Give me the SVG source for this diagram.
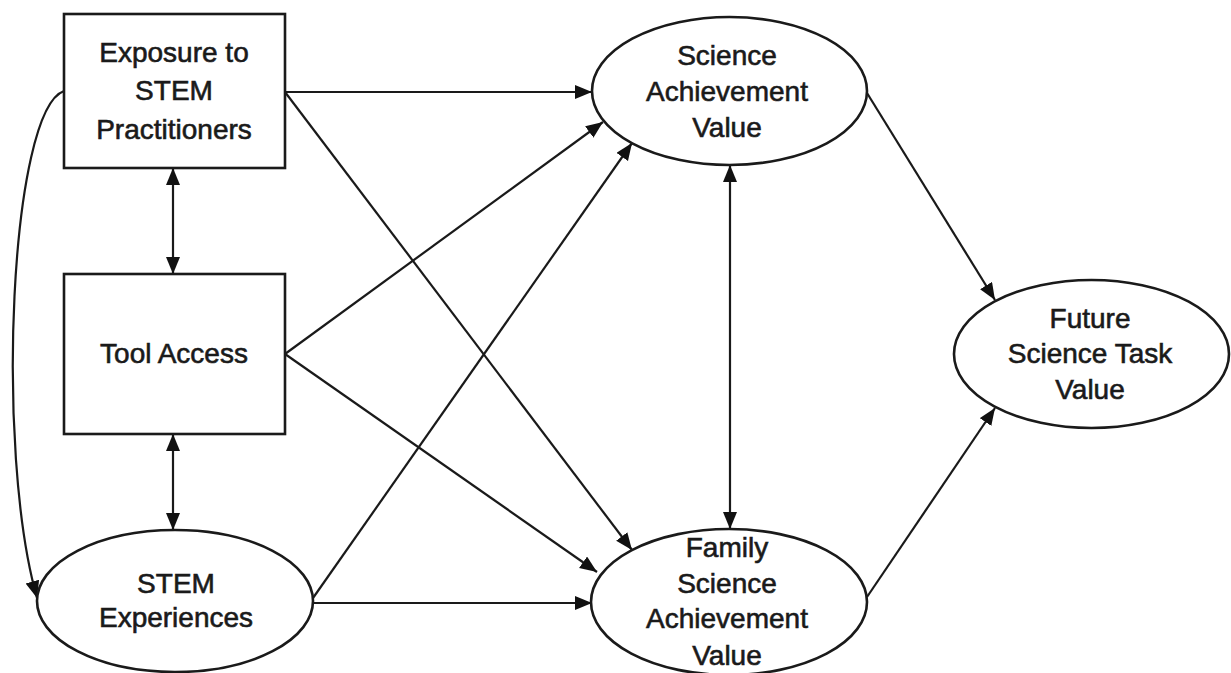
<svg xmlns="http://www.w3.org/2000/svg" width="1231" height="673" viewBox="0 0 1231 673">
<defs>
<marker id="ah" markerUnits="userSpaceOnUse" markerWidth="19" markerHeight="15" refX="17" refY="7" orient="auto-start-reverse">
<path d="M0,0 L17,7 L0,14 z" fill="#111"/>
</marker>
<style>
.node{fill:#fff;stroke:#1a1a1a;stroke-width:2.6}
.lbl{font-family:"Liberation Sans",Arial,sans-serif;font-size:28px;fill:#1a1a1a;stroke:#1a1a1a;stroke-width:0.6;text-anchor:middle}
.c{fill:none;stroke:#1a1a1a;stroke-width:2.2}
</style>
</defs>
<rect width="1231" height="673" fill="#fff"/>
<g id="connectors">
<path class="c" d="M64,91 C10,110 -5,450 37,598" marker-end="url(#ah)"/>
<line class="c" x1="173" y1="168" x2="173" y2="274" marker-start="url(#ah)" marker-end="url(#ah)"/>
<line class="c" x1="173" y1="434" x2="173" y2="530" marker-start="url(#ah)" marker-end="url(#ah)"/>
<line class="c" x1="285" y1="92" x2="592" y2="92" marker-end="url(#ah)"/>
<line class="c" x1="285" y1="92" x2="632" y2="550" marker-end="url(#ah)"/>
<line class="c" x1="285" y1="354" x2="603" y2="122" marker-end="url(#ah)"/>
<line class="c" x1="285" y1="354" x2="597" y2="572" marker-end="url(#ah)"/>
<line class="c" x1="313" y1="598" x2="632" y2="143" marker-end="url(#ah)"/>
<line class="c" x1="313" y1="603" x2="592" y2="603" marker-end="url(#ah)"/>
<line class="c" x1="730" y1="165" x2="730" y2="529" marker-start="url(#ah)" marker-end="url(#ah)"/>
<line class="c" x1="867" y1="93" x2="995" y2="300" marker-end="url(#ah)"/>
<line class="c" x1="867" y1="597" x2="995" y2="408" marker-end="url(#ah)"/>
</g>
<g id="exposure">
<rect class="node" x="64" y="14" width="221" height="154"/>
<text class="lbl" x="174" y="62">Exposure to</text>
<text class="lbl" x="174" y="100">STEM</text>
<text class="lbl" x="174" y="139">Practitioners</text>
</g>
<g id="tool-access">
<rect class="node" x="64" y="274" width="221" height="160"/>
<text class="lbl" x="174" y="363">Tool Access</text>
</g>
<g id="stem-experiences">
<ellipse class="node" cx="175" cy="601" rx="138" ry="71"/>
<text class="lbl" x="176" y="593">STEM</text>
<text class="lbl" x="176" y="627">Experiences</text>
</g>
<g id="science-achievement">
<ellipse class="node" cx="729.5" cy="91" rx="137.5" ry="74"/>
<text class="lbl" x="727" y="65">Science</text>
<text class="lbl" x="727" y="101">Achievement</text>
<text class="lbl" x="727" y="137">Value</text>
</g>
<g id="family-science">
<ellipse class="node" cx="729" cy="602" rx="138" ry="73"/>
<text class="lbl" x="727" y="557">Family</text>
<text class="lbl" x="727" y="593">Science</text>
<text class="lbl" x="727" y="628">Achievement</text>
<text class="lbl" x="727" y="665">Value</text>
</g>
<g id="future-science">
<ellipse class="node" cx="1091.5" cy="354" rx="137.5" ry="74"/>
<text class="lbl" x="1090" y="328">Future</text>
<text class="lbl" x="1090" y="363">Science Task</text>
<text class="lbl" x="1090" y="399">Value</text>
</g>
</svg>
